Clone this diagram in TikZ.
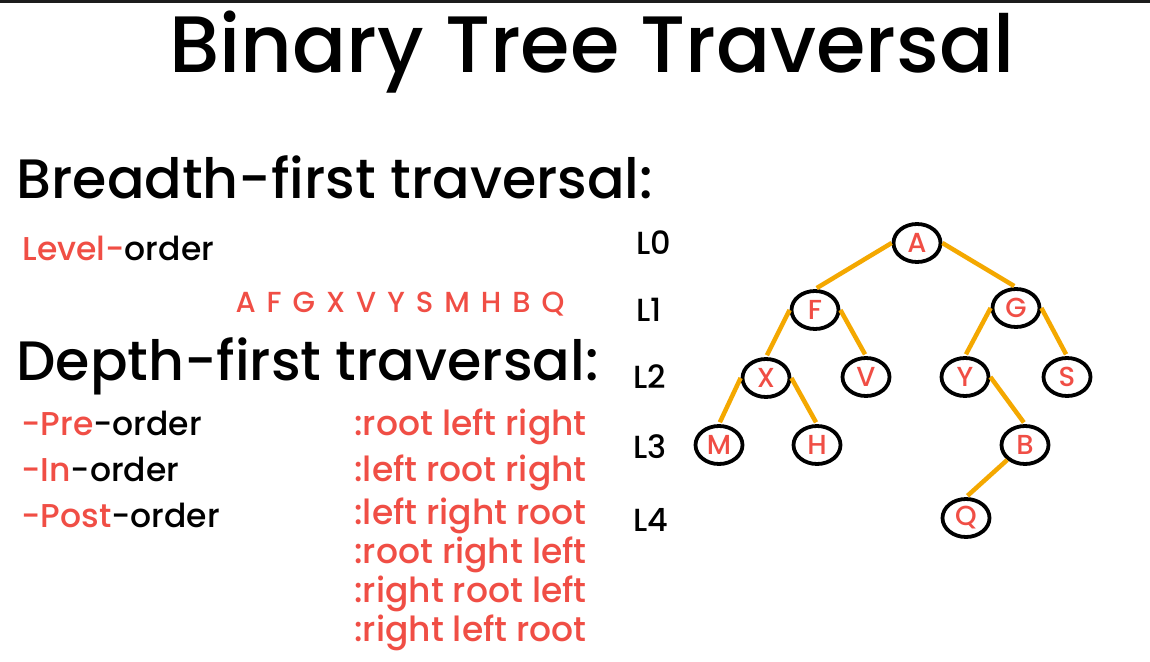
\documentclass[tikz,border=0pt]{standalone}
\usepackage{fontspec}
\setmainfont{Poppins}[UprightFont=* Medium]
\usetikzlibrary{shapes.geometric}
\definecolor{accent}{HTML}{F04E45}
\definecolor{branch}{HTML}{F4A800}
\definecolor{topbar}{HTML}{1C1C1C}
\newcommand{\fs}[1]{\fontsize{#1}{#1}\selectfont}
\newcommand{\gap}{\hspace{11pt}}
\begin{document}
\begin{tikzpicture}[x=1pt,y=-1pt,
  vertex/.style={ellipse, draw=black, line width=3.8pt, minimum width=47pt,
    minimum height=38pt, inner sep=0pt, font=\fs{27.5}, text=accent},
  branchline/.style={draw=branch, line width=4.5pt, shorten >=2pt},
  lvl/.style={anchor=base west, font=\fs{32}},
  heading/.style={anchor=base west, font=\fs{55.5}},
  item/.style={anchor=base west, font=\fs{33}},
  rule/.style={anchor=base west, font=\fs{34.5}, text=accent},
]
\useasboundingbox (0,0) rectangle (1150,661);
\fill[white] (0,0) rectangle (1150,661);
\fill[topbar] (0,0) rectangle (1150,3);

% title and section headings
\node[anchor=base, font=\fs{80}] (title) at (592,73) {Binary Tree Traversal};
\node[heading] (bfs) at (13,198) {Breadth-first traversal:};
\node[heading] (dfs) at (13,380) {Depth-first traversal:};

% breadth-first
\node[item] (level) at (19,260) {\textcolor{accent}{Level-}order};
\node[anchor=base west, font=\fs{29}, text=accent] (seq) at (232,312)
  {A\gap F\gap G\gap X\gap V\gap Y\gap S\gap M\gap H\gap B\gap Q};

% depth-first orders
\node[item] (pre) at (18,435) {\textcolor{accent}{-Pre}-order};
\node[item] (in) at (18,481) {\textcolor{accent}{-In}-order};
\node[item] (post) at (18,527) {\textcolor{accent}{-Post}-order};
\node[rule] (r1) at (351,435) {:root left right};
\node[rule] (r2) at (351,481) {:left root right};
\node[rule] (r3) at (351,524) {:left right root};
\node[rule] (r4) at (351,563) {:root right left};
\node[rule] (r5) at (351,602) {:right root left};
\node[rule] (r6) at (351,641) {:right left root};

% level labels
\node[lvl] (l0) at (633,254) {L0};
\node[lvl] (l1) at (633,321) {L1};
\node[lvl] (l2) at (630,388) {L2};
\node[lvl] (l3) at (630,458) {L3};
\node[lvl] (l4) at (630,531) {L4};

% tree
\node[vertex] (A) at (917,243) {A};
\node[vertex] (F) at (815,310) {F};
\node[vertex] (G) at (1016,308) {G};
\node[vertex] (X) at (766,378) {X};
\node[vertex] (V) at (866,377) {V};
\node[vertex] (Y) at (965,377) {Y};
\node[vertex] (S) at (1067,377) {S};
\node[vertex] (M) at (719,445) {M};
\node[vertex] (H) at (817,445) {H};
\node[vertex] (B) at (1025,445) {B};
\node[vertex] (Q) at (966,518) {Q};

\draw[branchline] (A.west) -- (F.north);
\draw[branchline] (A.east) -- (G.north);
\draw[branchline] (F.west) -- (X.north);
\draw[branchline] (F.east) -- (V.north);
\draw[branchline] (G.west) -- (Y.north);
\draw[branchline] (G.east) -- (S.north);
\draw[branchline] (X.west) -- (M.north);
\draw[branchline] (X.east) -- (H.north);
\draw[branchline] (Y.east) -- (B.north);
\draw[branchline] (B.220) -- (Q.north);
\end{tikzpicture}
\end{document}
